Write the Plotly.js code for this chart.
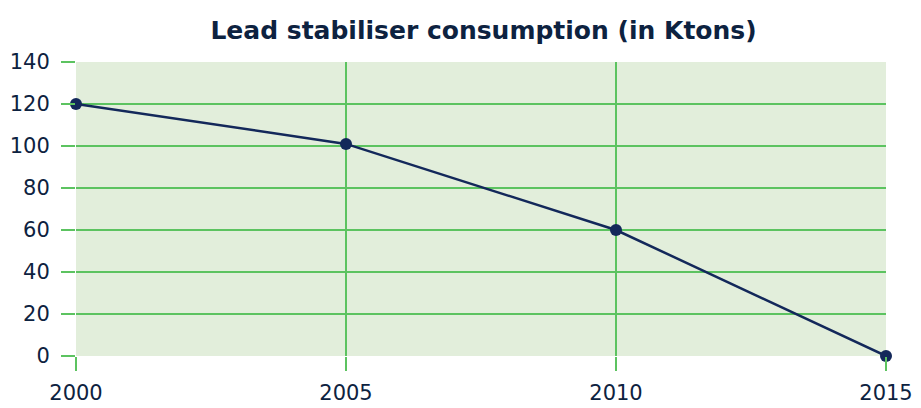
<!DOCTYPE html>
<html><head><meta charset="utf-8">
<script src="https://cdn.plot.ly/plotly-3.0.1.min.js"></script>
<style>html,body{margin:0;padding:0;background:#fff}</style>
</head><body><div id="chart" style="width:921px;height:408px"></div>
<script>
const years = [2000, 2005, 2010, 2015];
const consumption = [120, 101, 60, 0];
const yTicks = [0, 20, 40, 60, 80, 100, 120, 140];
const xTicks = [2000, 2005, 2010, 2015];

const navy = '#13285a';
const green = '#5cc360';
Plotly.newPlot('chart', [{
  x: years, y: consumption, type: 'scatter', mode: 'lines+markers',
  line: {color: navy, width: 2.5},
  marker: {color: navy, size: 12},
  cliponaxis: false, hoverinfo: 'skip'
}], {
  width: 921, height: 408,
  margin: {l: 76, r: 35, t: 62, b: 52},
  paper_bgcolor: '#ffffff', plot_bgcolor: '#e2eedb',
  font: {family: 'DejaVu Sans, sans-serif', color: '#0d2240'},
  title: {text: '<b>Lead stabiliser consumption (in Ktons)</b>', x: 0.525, xanchor: 'center', y: 0.927, yanchor: 'middle',
    font: {size: 25, color: '#0d2240', family: 'DejaVu Sans, sans-serif'}},
  xaxis: {range: [2000, 2015], tickvals: xTicks, ticktext: xTicks.map(String),
    showgrid: true, gridcolor: green, gridwidth: 1.5, zeroline: false, showline: false,
    ticks: 'outside', ticklen: 14, tickcolor: green, tickwidth: 1.5, ticklabelstandoff: 4,
    tickfont: {size: 21, color: '#0d2240'}, fixedrange: true},
  yaxis: {range: [0, 140], tickvals: yTicks, ticktext: yTicks.map(String),
    showgrid: true, gridcolor: green, gridwidth: 1.5, zeroline: false, showline: false,
    ticks: 'outside', ticklen: 14, tickcolor: green, tickwidth: 1.5, ticklabelstandoff: 7,
    tickfont: {size: 21, color: '#0d2240'}, fixedrange: true},
  showlegend: false
}, {displayModeBar: false, staticPlot: true});
</script></body></html>
